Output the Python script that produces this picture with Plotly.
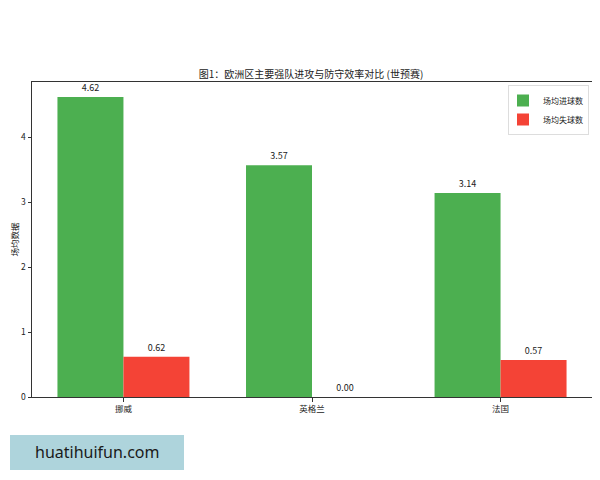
import plotly.graph_objects as go

teams = ["挪威", "英格兰", "法国"]
goals_for = [4.62, 3.57, 3.14]
goals_against = [0.62, 0.00, 0.57]
series_names = ["场均进球数", "场均失球数"]
y_ticks = [0, 1, 2, 3, 4]

FONT = "Noto Sans CJK SC"
GREEN = "#4caf50"
RED = "#f44336"

# page body adds an 8px offset; layout is specified in figure coordinates
OFF = 8
W, H = 600, 480
L, R, T, B = 32 - OFF, W - (592 - OFF), 82 - OFF, H - (397 - OFF)
PW, PH = W - L - R, H - T - B

def px(xs):
    return (xs - OFF - L) / PW

def py(ys):
    return (H - B - (ys - OFF)) / PH

fig = go.Figure()
fig.add_trace(go.Bar(
    x=teams, y=goals_for, name=series_names[0], marker_color=GREEN,
    marker_line_width=0,
    text=[f"{v:.2f}" for v in goals_for], textposition="outside",
    textfont=dict(size=9, color="#222222", family=FONT), cliponaxis=False,
))
fig.add_trace(go.Bar(
    x=teams, y=goals_against, name=series_names[1], marker_color=RED,
    marker_line_width=0,
    text=[f"{v:.2f}" for v in goals_against], textposition="outside",
    textfont=dict(size=9, color="#222222", family=FONT), cliponaxis=False,
))

fig.update_layout(
    width=W, height=H,
    margin=dict(l=L, r=R, t=T, b=B, autoexpand=False),
    paper_bgcolor="white", plot_bgcolor="white",
    barmode="group", bargap=0.3, bargroupgap=0,
    font=dict(family=FONT, size=9, color="#222222"),
    title=dict(text="图1：欧洲区主要强队进攻与防守效率对比 (世预赛)",
               x=(311 - OFF) / W, xanchor="center", y=1 - (74 - OFF) / H, yanchor="middle",
               font=dict(size=10, family=FONT, color="#222222")),
    showlegend=True,
    legend=dict(x=px(589), xanchor="right", y=py(85), yanchor="top",
                bgcolor="rgba(255,255,255,0.8)", bordercolor="#dddddd", borderwidth=1,
                font=dict(size=8, family=FONT), itemwidth=30,
                tracegroupgap=0, indentation=-6),
)
fig.update_xaxes(
    range=[-0.485, 2.485], showline=True, linecolor="#333333", linewidth=1,
    mirror=True, ticks="outside", ticklen=3.5, tickcolor="#333333",
    tickfont=dict(size=8.5, family=FONT), showgrid=False, automargin=False,
)
fig.update_yaxes(
    range=[0, 4.851], showline=True, linecolor="#333333", linewidth=1,
    mirror=True, ticks="outside", ticklen=3.5, tickcolor="#333333",
    tickvals=y_ticks, tickfont=dict(size=8.5, family=FONT), showgrid=False,
    zeroline=False, automargin=False,
    title=dict(text="场均数据", font=dict(size=8.5, family=FONT), standoff=4),
)

fig.add_shape(type="rect", xref="paper", yref="paper",
              x0=px(10), x1=px(184), y0=py(470), y1=py(435),
              fillcolor="#aed4dc", line_width=0, layer="above")
fig.add_annotation(text="huatihuifun.com", xref="paper", yref="paper",
                   x=px(97), y=py(452),
                   showarrow=False, xanchor="center", yanchor="middle",
                   font=dict(size=16, family="Noto Sans", color="#1a1a1a"))

fig.write_html("out.html")
